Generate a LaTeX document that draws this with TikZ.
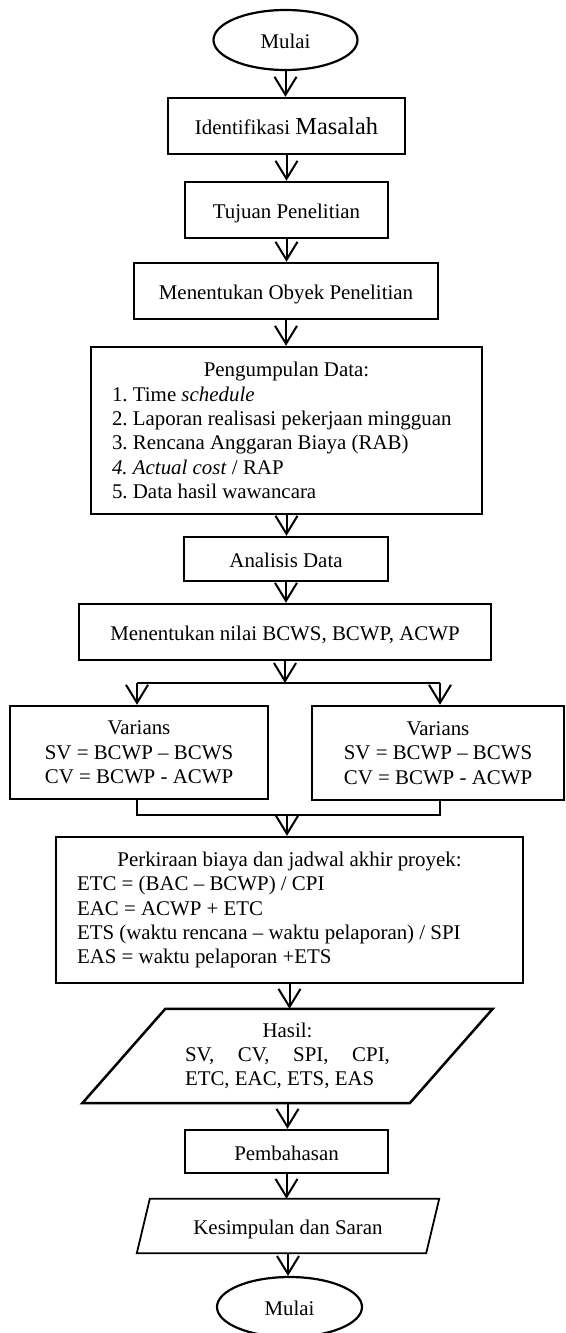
\documentclass[tikz,border=0pt]{standalone}
\usepackage{fontspec}
\setmainfont{Liberation Serif}
\usetikzlibrary{arrows.meta,shapes.geometric,calc}
\frenchspacing

\begin{document}
\begin{tikzpicture}[x=1pt,y=1pt,
  font=\fontsize{20.9}{24.3}\selectfont,
  box/.style={draw, line width=2.5pt, rectangle, inner sep=0pt},
  oval/.style={draw, line width=2.2pt, ellipse, inner sep=0pt, minimum width=144pt, minimum height=60pt},
  one/.style={text height=17pt, text depth=0pt},
  arr/.style={line width=2pt, -{Straight Barb[length=18pt,width=22pt]}},
  link/.style={line width=1.2pt},
  io/.style={inner sep=0pt},
  para/.style={line width=2.5pt, line join=miter}]

\useasboundingbox (0,0) rectangle (565,-1333);

% nodes
\node[oval, one] (start) at (285.5,-40) {Mulai};
\node[box, one, minimum width=237pt, minimum height=56pt] (ident) at (286.5,-126)
  {Identifikasi {\fontsize{24.4}{28}\selectfont Masalah}};
\node[box, one, minimum width=203pt, minimum height=56pt] (tujuan) at (286.5,-210) {Tujuan Penelitian};
\node[box, one, minimum width=304pt, minimum height=56pt] (obyek) at (286,-291) {Menentukan Obyek Penelitian};
\node[box, minimum width=391pt, minimum height=167pt, align=left] (kumpul) at (286.5,-430.5)
  {\makebox[349pt][c]{Pengumpulan Data:}\\
   1. Time \textit{schedule}\\
   2. Laporan realisasi pekerjaan mingguan\\
   3. Rencana Anggaran Biaya (RAB)\\
   \textit{4. Actual cost} / RAP\\
   5. Data hasil wawancara};
\node[box, one, minimum width=204pt, minimum height=44pt] (analisis) at (286,-559) {Analisis Data};
\node[box, one, minimum width=412pt, minimum height=56pt] (nilai) at (285,-632) {Menentukan nilai BCWS, BCWP, ACWP};
\node[box, minimum width=258pt, minimum height=93pt, align=center] (varL) at (139,-752.5)
  {Varians\\SV = BCWP – BCWS\\CV = BCWP - ACWP};
\node[box, minimum width=252pt, minimum height=94pt, align=center] (varR) at (438,-753)
  {Varians\\SV = BCWP – BCWS\\CV = BCWP - ACWP};
\node[box, minimum width=467pt, minimum height=146pt, align=left] (perk) at (289.5,-910)
  {\makebox[425pt][c]{Perkiraan biaya dan jadwal akhir proyek:}\\
   ETC = (BAC – BCWP) / CPI\\
   EAC = ACWP + ETC\\
   ETS (waktu rencana – waktu pelaporan) / SPI\\
   EAS = waktu pelaporan +ETS};
\node[io, minimum width=327pt, minimum height=94pt, align=left] (hasil) at (287.5,-1056)
  {\makebox[205pt][c]{Hasil:}\\
   \makebox[205pt][s]{SV,\hfill CV,\hfill SPI,\hfill CPI,}\\
   ETC, EAC, ETS, EAS};
\draw[para] ($(hasil.north west)+(41.5,0)$) -- ($(hasil.north east)+(41.5,0)$)
  -- ($(hasil.south east)-(41.5,0)$) -- ($(hasil.south west)-(41.5,0)$) -- cycle;
\node[box, one, minimum width=203pt, minimum height=43pt] (bahas) at (286.5,-1151.5) {Pembahasan};
\node[io, one, minimum width=289pt, minimum height=54pt] (simpul) at (288,-1226) {Kesimpulan dan Saran};
\draw[para, line width=1.8pt] ($(simpul.north west)+(6.5,0)$) -- ($(simpul.north east)+(6.5,0)$)
  -- ($(simpul.south east)-(6.5,0)$) -- ($(simpul.south west)-(6.5,0)$) -- cycle;
\node[oval, one, minimum width=145pt] (selesai) at (289.5,-1307) {Mulai};

% connectors
\draw[arr] (start.south) -- (start.south |- ident.north);
\draw[arr] (ident.south) -- (ident.south |- tujuan.north);
\draw[arr] (tujuan.south) -- (tujuan.south |- obyek.north);
\draw[arr] (obyek.south) -- (obyek.south |- kumpul.north);
\draw[arr] (kumpul.south) -- (kumpul.south |- analisis.north);
\draw[arr] (analisis.south) -- (analisis.south |- nilai.north);

\coordinate (split) at (285,-683);
\coordinate (sL) at (137,-683);
\coordinate (sR) at (440,-683);
\draw[arr] (nilai.south) -- (split);
\draw[link] (sL) -- (sR);
\draw[arr] (sL) -- (sL |- varL.north);
\draw[arr] (sR) -- (sR |- varR.north);

\coordinate (mL) at (137,-815);
\coordinate (mR) at (440,-815);
\coordinate (merge) at (287,-815);
\draw[link] (mL |- varL.south) -- (mL) -- (mR) -- (mR |- varR.south);
\draw[arr] (merge) -- (merge |- perk.north);

\draw[arr] (perk.south) -- (perk.south |- hasil.north);
\draw[arr] (hasil.south) -- (hasil.south |- bahas.north);
\draw[arr] (bahas.south) -- (bahas.south |- simpul.north);
\draw[arr] (simpul.south) -- (simpul.south |- selesai.north);
\end{tikzpicture}
\end{document}
